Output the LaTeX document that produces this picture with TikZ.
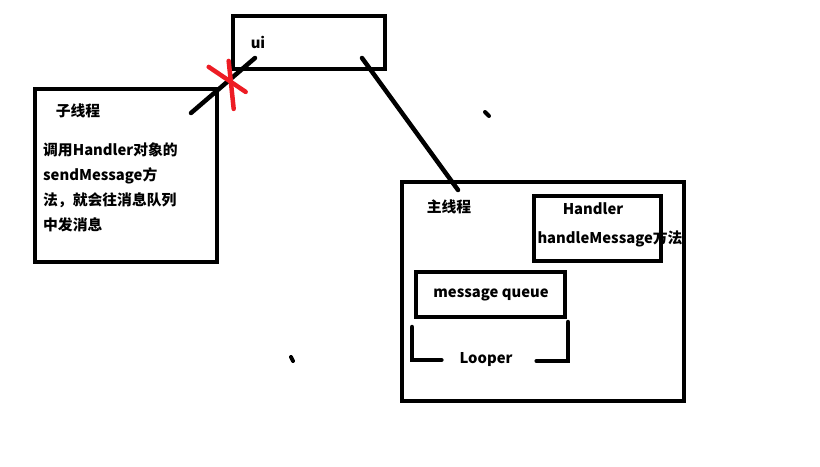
\documentclass[tikz,border=0pt]{standalone}
\usepackage{fontspec}
\setmainfont{Noto Sans CJK SC}
\usetikzlibrary{positioning,calc}
\definecolor{tinta}{HTML}{000000}
\definecolor{vermelho}{HTML}{ED1C24}
\tikzset{
  caixa/.style={draw=tinta, line width=4pt, anchor=north west, inner sep=0pt, outer sep=0pt},
  rotulo/.style={font=\fontsize{14.8bp}{25bp}\selectfont\bfseries, inner sep=0pt, text=tinta},
  traco/.style={draw=tinta, line width=4.5pt, line cap=round},
  risco/.style={draw=vermelho, line width=4.5pt, line cap=round},
}

\begin{document}
\begin{tikzpicture}[x=1bp, y=-1bp]
    \useasboundingbox[fill=white] (0,0) rectangle (820,467);
    % caixas
    \node[caixa, minimum width=152bp, minimum height=53bp] (ui) at (233,16) {};
    \node[caixa, minimum width=182bp, minimum height=173bp] (filho) at (35,89) {};
    \node[caixa, minimum width=282bp, minimum height=219bp] (principal) at (402,182) {};
    \node[caixa, minimum width=127bp, minimum height=65bp] (handler) at (534,196) {};
    \node[caixa, minimum width=149bp, minimum height=45bp] (fila) at (416,272) {};
    % textos
    \node[rotulo] (tui) at (258,42) {ui};
    \node[rotulo] (tfilho) at (78,111) {子线程};
    \node[rotulo, anchor=north west, align=left] (corpo) at (43,143) {调用Handler对象的\\sendMessage方\\法，就会往消息队列\\中发消息};
    \node[rotulo] (tprincipal) at (449,207) {主线程};
    \node[rotulo] (thandler) at (593,209) {Handler};
    \node[rotulo] (tmetodo) at (610,239) {handleMessage方法};
    \node[rotulo] (tfila) at (491,295) {message queue};
    \node[rotulo] (looper) at (486,360) {Looper};
    % ligacoes
    \coordinate (fio-a) at ($(filho.north east)+(-26,24)$);
    \coordinate (fio-b) at ($(ui.south west)+(22,-11)$);
    \draw[traco] (fio-a) -- (fio-b);
    \draw[traco] ($(ui.south east)+(-23,-11)$) -- ($(principal.north west)+(56,8)$);
    \draw[traco] ([shift={(-4,10)}]fila.south west) |- ([xshift=-18]looper.west);
    \draw[traco] ([shift={(24,1)}]looper.east) -| ([shift={(3,5)}]fila.south east);
    % corte
    \coordinate (corte) at ($(fio-a)!0.62!(fio-b)$);
    \draw[risco] ($(corte)+(-22,-12)$) -- ($(corte)+(15,13)$);
    \draw[risco] ($(corte)+(-2,-18)$) -- ($(corte)+(3,30)$);
    % pontos soltos
    \draw[traco, line width=4pt] (485,112) -- (489,116);
    \draw[traco, line width=4pt] (291,357) -- (293,361);
\end{tikzpicture}
\end{document}
